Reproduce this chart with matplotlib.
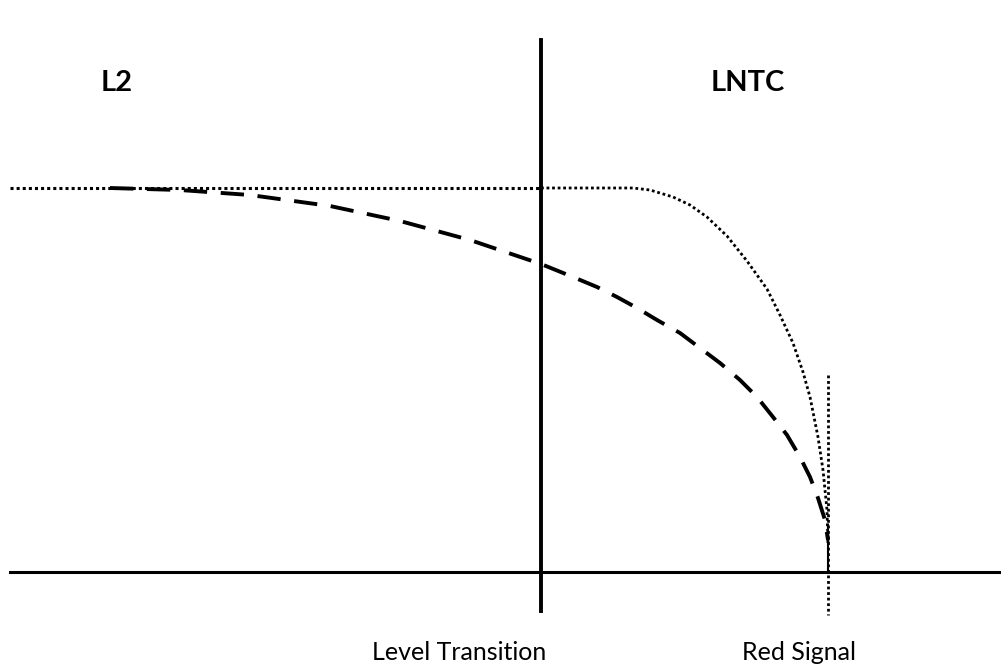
"""
Speed curves around a level transition and a red signal
"""

import matplotlib.pyplot as plt

# picture coordinates (pixels, y downwards)
l2_x = [10, 110, 250, 400, 541]
l2_y = [188, 188, 188, 188, 188]

lntc_x = [541, 633, 650, 673, 690, 707, 727, 747, 767, 780, 793, 803, 810, 818, 823, 827, 828]
lntc_y = [188, 188, 190, 197, 205, 217, 236, 261, 289, 315, 343, 372, 397, 437, 470, 510, 545]

brake_x = [110, 180, 250, 330, 400, 470, 541, 573, 597, 617, 637, 657, 680, 700, 720, 740,
           757, 773, 787, 800, 810, 818, 825, 828]
brake_y = [188, 190, 195, 206, 221, 240, 264, 277, 287, 297, 308, 320, 333, 348, 363, 380,
           397, 417, 435, 457, 477, 498, 520, 540]

transition_x = 541
signal_x = 828
axis_y = 572

labels = ["L2", "LNTC"]
label_x = [117, 748]
bottom_labels = ["Level Transition", "Red Signal"]
bottom_x = [459, 799]


def main():
    fig = plt.figure(figsize=(10.01, 6.68), dpi=100)
    ax = fig.add_axes([0, 0, 1, 1])
    ax.set_xlim(0, 1001)
    ax.set_ylim(668, 0)
    ax.axis('off')

    ax.plot([10, 1001], [axis_y, axis_y], color='black', lw=2.2)
    ax.plot([transition_x, transition_x], [40, 611], color='black', lw=2.8)

    ax.plot(l2_x, l2_y, color='black', lw=2.2, linestyle=(0, (1, 1)))
    ax.plot(lntc_x, lntc_y, color='black', lw=2.0, linestyle=(0, (1, 1)))
    ax.plot(brake_x, brake_y, color='black', lw=2.8, linestyle=(0, (6, 3.5)))
    ax.plot([signal_x, signal_x], [375, 615], color='black', lw=2.0, linestyle=(0, (1, 1)))
    ax.plot([signal_x, signal_x], [525, axis_y], color='black', lw=1.5)

    for t, x in zip(labels, label_x):
        ax.text(x, 83, t, fontsize=21, fontweight='bold', family=['Lato', 'DejaVu Sans'],
                ha='center', va='center')
    for t, x in zip(bottom_labels, bottom_x):
        ax.text(x, 652, t, fontsize=18, family=['Lato', 'DejaVu Sans'],
                ha='center', va='center')

    fig.savefig('out.png', dpi=100)


if __name__ == '__main__':
    main()
